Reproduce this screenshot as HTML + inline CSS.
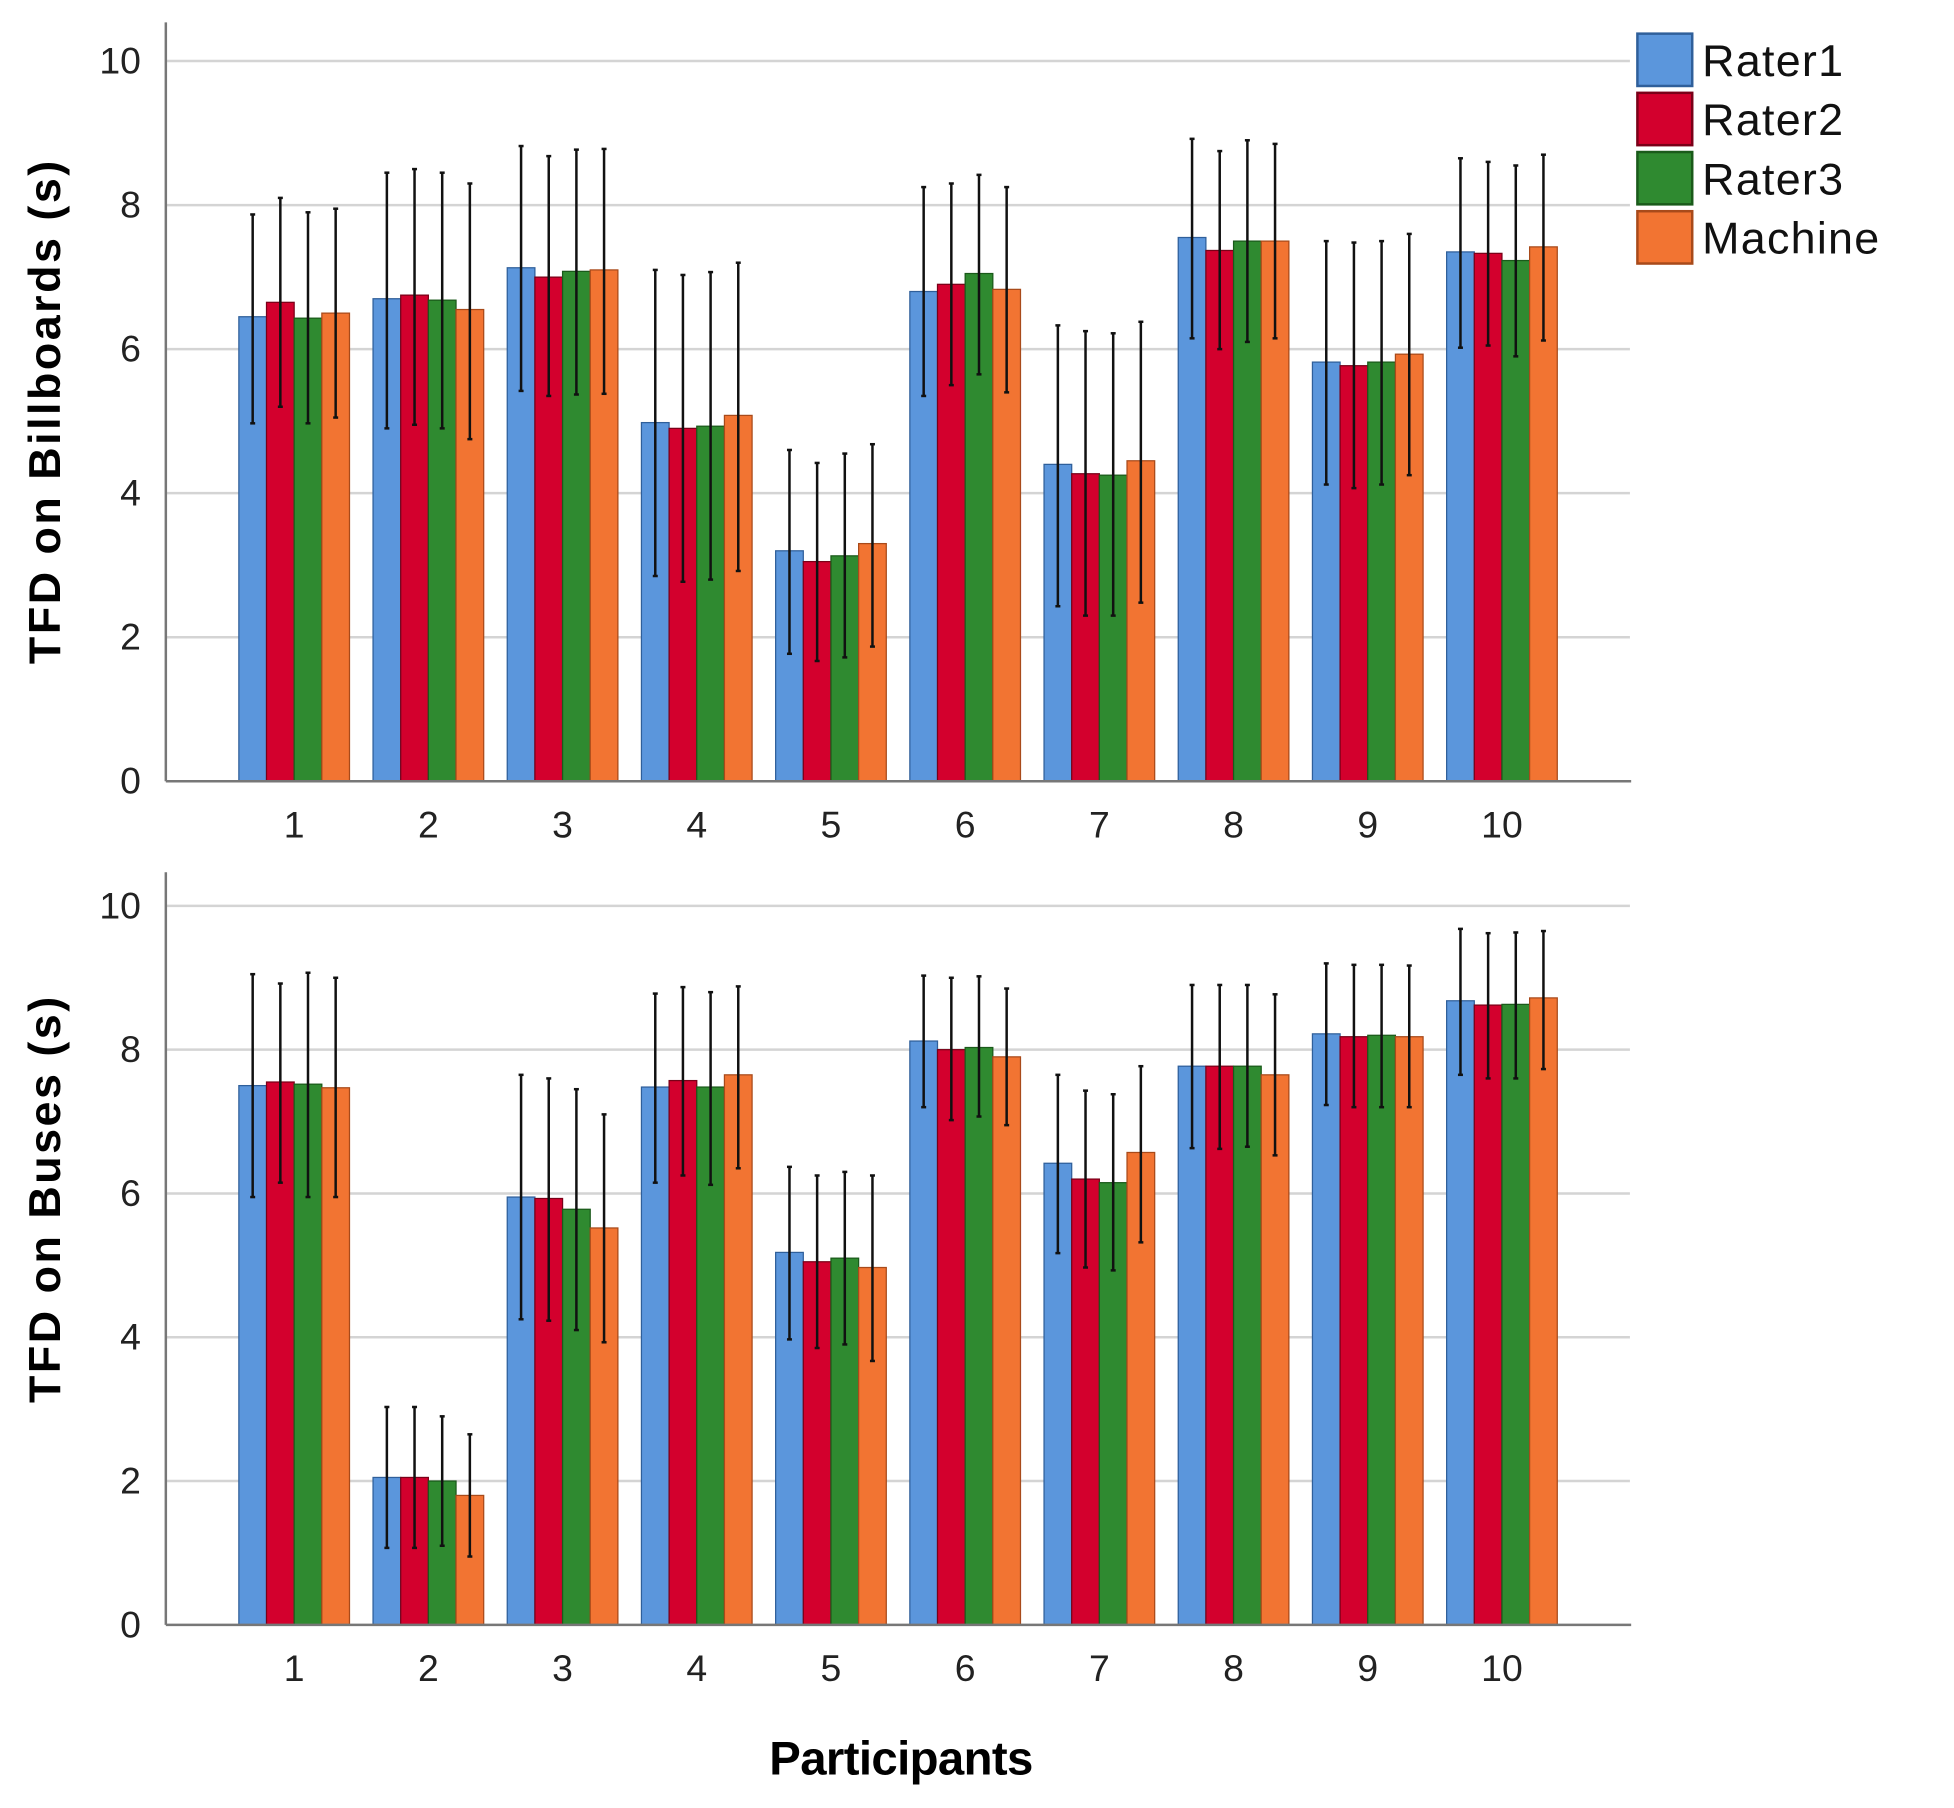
<!DOCTYPE html>
<html><head><meta charset="utf-8"><style>
html,body{margin:0;padding:0;background:#fff;}
svg{display:block;}
text{font-family:"Liberation Sans",sans-serif;}
</style></head><body>
<svg id="chart" width="1954" height="1808" viewBox="0 0 1568 1451">
<g id="legend"></g>
<text x="723" y="1424" text-anchor="middle" font-size="38" font-weight="bold" letter-spacing="-0.5">Participants</text>
</svg>
<script>
const categories = ["1","2","3","4","5","6","7","8","9","10"];
const seriesNames = ["Rater1","Rater2","Rater3","Machine"];
const yTicks = [0,2,4,6,8,10];
// Billboards: values, upper, lower per series
const bbR1 = [6.45,6.7,7.13,4.98,3.2,6.8,4.4,7.55,5.82,7.35];
const bbR2 = [6.65,6.75,7.0,4.9,3.05,6.9,4.27,7.37,5.77,7.33];
const bbR3 = [6.43,6.68,7.08,4.93,3.13,7.05,4.25,7.5,5.82,7.23];
const bbM  = [6.5,6.55,7.1,5.08,3.3,6.83,4.45,7.5,5.93,7.42];
const bbR1Hi = [7.87,8.45,8.82,7.1,4.6,8.25,6.33,8.92,7.5,8.65];
const bbR2Hi = [8.1,8.5,8.68,7.03,4.42,8.3,6.25,8.75,7.48,8.6];
const bbR3Hi = [7.9,8.45,8.77,7.07,4.55,8.42,6.22,8.9,7.5,8.55];
const bbMHi  = [7.95,8.3,8.78,7.2,4.68,8.25,6.38,8.85,7.6,8.7];
const bbR1Lo = [4.97,4.9,5.42,2.85,1.77,5.35,2.43,6.15,4.12,6.02];
const bbR2Lo = [5.2,4.95,5.35,2.77,1.67,5.5,2.3,6.0,4.07,6.05];
const bbR3Lo = [4.97,4.9,5.37,2.8,1.72,5.65,2.3,6.1,4.12,5.9];
const bbMLo  = [5.05,4.75,5.38,2.92,1.87,5.4,2.48,6.15,4.25,6.12];
// Buses
const buR1 = [7.5,2.05,5.95,7.48,5.18,8.12,6.42,7.77,8.22,8.68];
const buR2 = [7.55,2.05,5.93,7.57,5.05,8.0,6.2,7.77,8.18,8.62];
const buR3 = [7.52,2.0,5.78,7.48,5.1,8.03,6.15,7.77,8.2,8.63];
const buM  = [7.47,1.8,5.52,7.65,4.97,7.9,6.57,7.65,8.18,8.72];
const buR1Hi = [9.05,3.03,7.65,8.78,6.37,9.03,7.65,8.9,9.2,9.68];
const buR2Hi = [8.92,3.03,7.6,8.87,6.25,9.0,7.43,8.9,9.18,9.62];
const buR3Hi = [9.07,2.9,7.45,8.8,6.3,9.02,7.38,8.9,9.18,9.63];
const buMHi  = [9.0,2.65,7.1,8.88,6.25,8.85,7.77,8.77,9.17,9.65];
const buR1Lo = [5.95,1.07,4.25,6.15,3.97,7.2,5.17,6.63,7.23,7.65];
const buR2Lo = [6.15,1.07,4.23,6.25,3.85,7.02,4.97,6.62,7.2,7.6];
const buR3Lo = [5.95,1.1,4.1,6.12,3.9,7.07,4.93,6.65,7.2,7.6];
const buMLo  = [5.95,0.95,3.93,6.35,3.67,6.95,5.32,6.53,7.2,7.73];

const colors = ["#5b96dc","#d3002d","#2f8a30","#f27432"];
const strokes = ["#2f5f9a","#7a0018","#1a5a1a","#a84a1a"];
const NS = "http://www.w3.org/2000/svg";
const svg = document.getElementById("chart");
function mk(tag, attrs, parent){const e=document.createElementNS(NS,tag);for(const k in attrs)e.setAttribute(k,attrs[k]);(parent||svg).appendChild(e);return e;}

function drawPanel(prefix, y0px, y10px, axisTop, title, titleCy, vals, his, los){
  const yScale = v => y0px + (y10px - y0px) * v / 10;
  const xCenter = i => 236 + i * 107.7;
  const barW = 22.2;
  const g = mk("g", {});
  
  
  yTicks.forEach(t => {
    if (t > 0) {
      const gl = mk("line", {x1:133, x2:1308, y1:yScale(t), y2:yScale(t), stroke:"#d4d4d4", "stroke-width":2}, g);
      
      
    }
    const tl = mk("text", {x:113, y:yScale(t)+10, "text-anchor":"end", "font-size":30, fill:"#222"}, g);
    tl.textContent = t;
    
    
  });
  categories.forEach((c, i) => {
    const cx = xCenter(i);
    for (let s = 0; s < 4; s++) {
      const x = cx - 2*barW + s*barW;
      const v = vals[s][i];
      const r = mk("rect", {x:x, y:yScale(v), width:barW, height:yScale(0)-yScale(v), fill:colors[s], stroke:strokes[s], "stroke-width":1}, g);
      
      
      const ex = x + barW/2;
      const e = mk("line", {x1:ex, x2:ex, y1:yScale(his[s][i]), y2:yScale(los[s][i]), stroke:"#111", "stroke-width":2}, g);
      
      
      mk("line", {x1:ex-2, x2:ex+2, y1:yScale(his[s][i]), y2:yScale(his[s][i]), stroke:"#111", "stroke-width":2}, g);
      mk("line", {x1:ex-2, x2:ex+2, y1:yScale(los[s][i]), y2:yScale(los[s][i]), stroke:"#111", "stroke-width":2}, g);
    }
    const xl = mk("text", {x:cx, y:yScale(0)+45, "text-anchor":"middle", "font-size":30, fill:"#222"}, g);
    xl.textContent = c;
    
    
  });
  const ya = mk("line", {x1:133, x2:133, y1:axisTop, y2:yScale(0), stroke:"#777", "stroke-width":2}, g);
  
  
  const xa = mk("line", {x1:133, x2:1309, y1:yScale(0), y2:yScale(0), stroke:"#777", "stroke-width":2}, g);
  
  
  const yt = mk("text", {x:0, y:0, "text-anchor":"middle", "font-size":36, "font-weight":"bold", "letter-spacing":"2", transform:"translate(48,"+titleCy+") rotate(-90)"}, g);
  yt.textContent = title;
  
  
}
drawPanel("billboards", 627, 49, 18, "TFD on Billboards (s)", 330,
  [bbR1,bbR2,bbR3,bbM],[bbR1Hi,bbR2Hi,bbR3Hi,bbMHi],[bbR1Lo,bbR2Lo,bbR3Lo,bbMLo]);
drawPanel("buses", 1304, 727, 700, "TFD on Buses (s)", 962,
  [buR1,buR2,buR3,buM],[buR1Hi,buR2Hi,buR3Hi,buMHi],[buR1Lo,buR2Lo,buR3Lo,buMLo]);

const lg = document.getElementById("legend");
seriesNames.forEach((n, s) => {
  const y = 27 + s*47.5;
  const r = mk("rect", {x:1314, y:y, width:44, height:42, fill:colors[s], stroke:strokes[s], "stroke-width":2}, lg);
  
  
  const t = mk("text", {x:1366, y:y+34, "font-size":36, "letter-spacing":"1", fill:"#111"}, lg);
  t.textContent = n;
  
  
});
</script>
</body></html>
